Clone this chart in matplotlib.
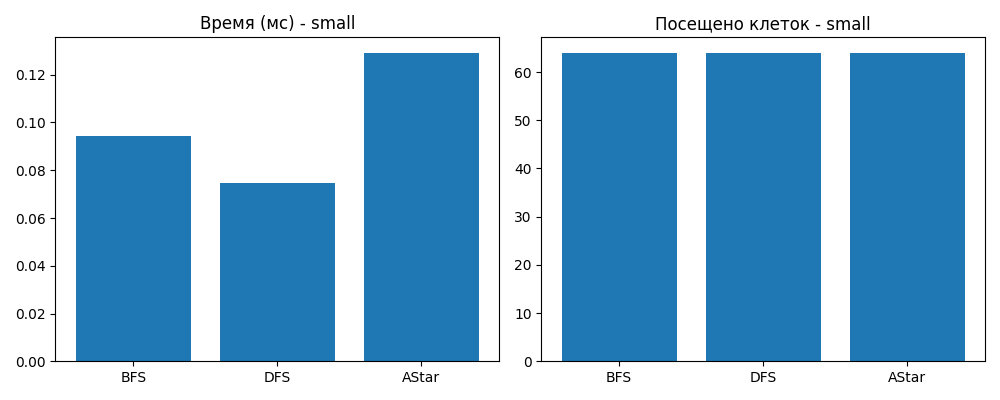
import matplotlib
matplotlib.use("Agg")
import matplotlib.pyplot as plt

algorithms = ["BFS", "DFS", "AStar"]
time_ms = [0.0944, 0.0747, 0.1292]
visited = [64, 64, 64]

fig, axes = plt.subplots(1, 2, figsize=(10, 4), dpi=100)
axes[0].bar(algorithms, time_ms)
axes[0].set_title("Время (мс) - small")
axes[1].bar(algorithms, visited)
axes[1].set_title("Посещено клеток - small")
plt.tight_layout()
fig.savefig("out.png")
